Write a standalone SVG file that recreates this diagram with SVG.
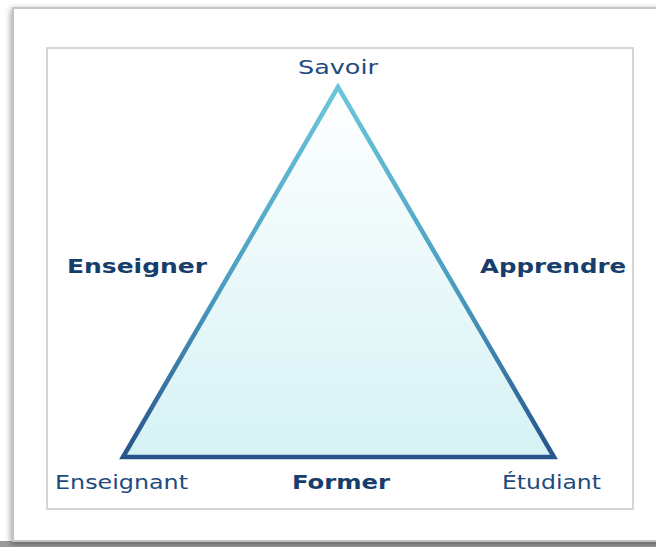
<svg xmlns="http://www.w3.org/2000/svg" width="656" height="547" viewBox="0 0 656 547">
<defs>
<style>
.lbl{font-family:"DejaVu Sans","Verdana",sans-serif;font-size:20px;fill:#1e4a7c}
.bold{font-family:"DejaVu Sans","Verdana",sans-serif;font-size:19px;font-weight:bold;fill:#163d6b}
</style>
<linearGradient id="fillG" x1="0" y1="87" x2="0" y2="457" gradientUnits="userSpaceOnUse">
<stop offset="0" stop-color="#ffffff"/>
<stop offset="1" stop-color="#d6f2f5"/>
</linearGradient>
<linearGradient id="strokeG" x1="0" y1="87" x2="0" y2="457" gradientUnits="userSpaceOnUse">
<stop offset="0" stop-color="#6cc6da"/>
<stop offset="0.55" stop-color="#4a9cc0"/>
<stop offset="1" stop-color="#27548c"/>
</linearGradient>
<filter id="sh" x="-5%" y="-5%" width="110%" height="110%">
<feGaussianBlur in="SourceAlpha" stdDeviation="3"/>
<feOffset dx="-1" dy="2"/>
<feComponentTransfer><feFuncA type="linear" slope="0.4"/></feComponentTransfer>
<feMerge><feMergeNode/><feMergeNode in="SourceGraphic"/></feMerge>
</filter>
</defs>
<rect x="0" y="0" width="656" height="547" fill="#ffffff"/>
<rect x="0" y="541" width="656" height="6" fill="#9a9a9a"/>
<g id="frame">
<rect x="13" y="8" width="660" height="533" fill="#ffffff" stroke="#c4c4c4" stroke-width="2" filter="url(#sh)"/>
<rect x="47" y="48" width="586" height="461" fill="#ffffff" stroke="#c8c8c8" stroke-width="1.5"/>
</g>
<g id="triangle">
<polygon points="338,87 123,457 554,457" fill="url(#fillG)" stroke="url(#strokeG)" stroke-width="4.5" stroke-linejoin="miter"/>
</g>
<g id="savoir"><text class="lbl" x="298" y="74" textLength="80" lengthAdjust="spacingAndGlyphs">Savoir</text></g>
<g id="enseignant"><text class="lbl" x="55" y="489" textLength="133" lengthAdjust="spacingAndGlyphs">Enseignant</text></g>
<g id="etudiant"><text class="lbl" x="502" y="489" textLength="99" lengthAdjust="spacingAndGlyphs">Étudiant</text></g>
<g id="connectors">
<text class="bold" x="67" y="273" textLength="140" lengthAdjust="spacingAndGlyphs">Enseigner</text>
<text class="bold" x="480" y="273" textLength="146" lengthAdjust="spacingAndGlyphs">Apprendre</text>
<text class="bold" x="292" y="489" textLength="98" lengthAdjust="spacingAndGlyphs">Former</text>
</g>
</svg>
